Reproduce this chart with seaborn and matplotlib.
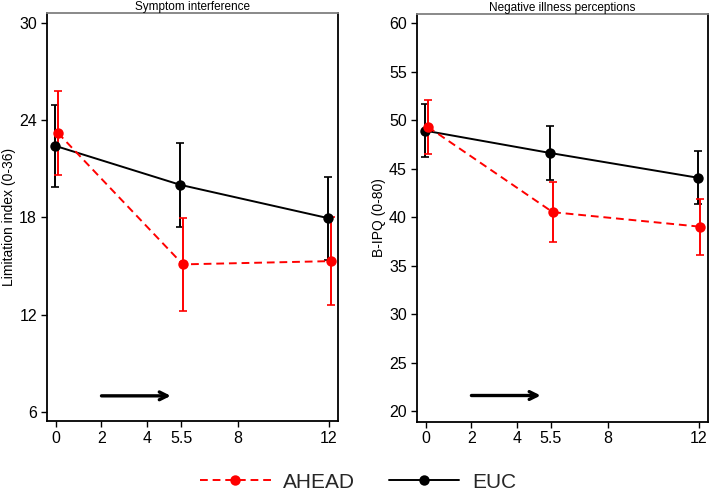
import numpy as np
import pandas as pd
import matplotlib
matplotlib.use("Agg")
import matplotlib.pyplot as plt
import seaborn as sns
from matplotlib.lines import Line2D

# ---- data ----
months = [0, 5.5, 12]
groups = ["AHEAD", "EUC"]

# Symptom interference (Limitation index 0-36)
si_ahead = [23.2, 15.1, 15.3]
si_ahead_err = [2.6, 2.85, 2.7]
si_euc = [22.4, 20.0, 17.95]
si_euc_err = [2.55, 2.6, 2.55]

# Negative illness perceptions (B-IPQ 0-80)
ip_ahead = [49.3, 40.5, 39.0]
ip_ahead_err = [2.8, 3.1, 2.9]
ip_euc = [48.9, 46.6, 44.05]
ip_euc_err = [2.7, 2.75, 2.75]

x_ticks = [0, 2, 4, 5.5, 8, 12]
left_yticks = [6, 12, 18, 24, 30]
right_yticks = [20, 25, 30, 35, 40, 45, 50, 55, 60]
titles = ["Symptom interference", "Negative illness perceptions"]
ylabels = ["Limitation index (0-36)", "B-IPQ (0-80)"]
arrow_start, arrow_end = 2, 5.05
arrow_y = [7.0, 21.6]

# ---- style ----
sns.set_theme(style="white")
plt.rcParams["font.family"] = ["Liberation Sans", "DejaVu Sans"]
colors = {"AHEAD": "#ff0000", "EUC": "#000000"}
dodge = {"AHEAD": 0.08, "EUC": -0.03}

fig = plt.figure(figsize=(7.09, 4.96), dpi=100)
ax1 = fig.add_axes([0.0659, 0.1512, 0.4112, 0.8220])
ax2 = fig.add_axes([0.5877, 0.1498, 0.4110, 0.8214])

panels = [
    (ax1, si_ahead, si_ahead_err, si_euc, si_euc_err, left_yticks, (5.45, 30.57)),
    (ax2, ip_ahead, ip_ahead_err, ip_euc, ip_euc_err, right_yticks, (18.9, 60.9)),
]

for i, (ax, a, ae, e, ee, yt, ylim) in enumerate(panels):
    rows = []
    for g, vals, errs in [("EUC", e, ee), ("AHEAD", a, ae)]:
        for m, v, er in zip(months, vals, errs):
            rows.append({"group": g, "month": m + dodge[g], "value": v, "err": er})
    df = pd.DataFrame(rows)
    for g in ["EUC", "AHEAD"]:
        sub = df[df.group == g]
        ax.errorbar(sub["month"], sub["value"], yerr=sub["err"], fmt="none",
                    ecolor=colors[g], elinewidth=1.4, capsize=3, capthick=1.2, zorder=2)
    sns.lineplot(data=df, x="month", y="value", hue="group", style="group",
                 palette=colors, dashes={"AHEAD": (4, 2.5), "EUC": ""},
                 markers={"AHEAD": "o", "EUC": "o"}, markersize=7.5, markeredgewidth=0,
                 linewidth=1.4, ax=ax, legend=False, sort=False, zorder=3)
    ax.annotate("", xy=(arrow_end, arrow_y[i]), xytext=(arrow_start, arrow_y[i]),
                arrowprops=dict(arrowstyle="->", color="black", lw=2.4,
                                mutation_scale=14, shrinkA=0, shrinkB=0))
    ax.set_xlim(-0.41, 12.42)
    ax.set_ylim(*ylim)
    ax.set_xticks(x_ticks)
    ax.set_xticklabels([("%g" % t) for t in x_ticks])
    ax.set_yticks(yt)
    ax.set_xlabel("")
    ax.set_ylabel(ylabels[i], fontsize=10, color="black", labelpad=2)
    ax.set_title(titles[i], fontsize=8.5, color="black", pad=2)
    ax.tick_params(axis="both", which="both", direction="out", length=4, width=1,
                   color="black", labelsize=11.5, labelcolor="black", pad=3,
                   left=True, bottom=True)
    for side in ["left", "bottom", "right"]:
        ax.spines[side].set_color("black")
        ax.spines[side].set_linewidth(1.3)
    ax.spines["top"].set_color("#808080")
    ax.spines["top"].set_linewidth(1.3)
    ax.grid(False)

handles = [
    Line2D([0], [0], color=colors["AHEAD"], linestyle=(0, (4, 2.5)), linewidth=1.4,
           marker="o", markersize=7.5, markeredgewidth=0),
    Line2D([0], [0], color=colors["EUC"], linestyle="-", linewidth=1.4,
           marker="o", markersize=7.5, markeredgewidth=0),
]
fig.legend(handles, groups, loc="center", bbox_to_anchor=(0.505, 0.028), ncol=2,
           frameon=False, fontsize=15, handlelength=3.4, columnspacing=1.6,
           handletextpad=0.6)

fig.savefig("out.png", dpi=100)
